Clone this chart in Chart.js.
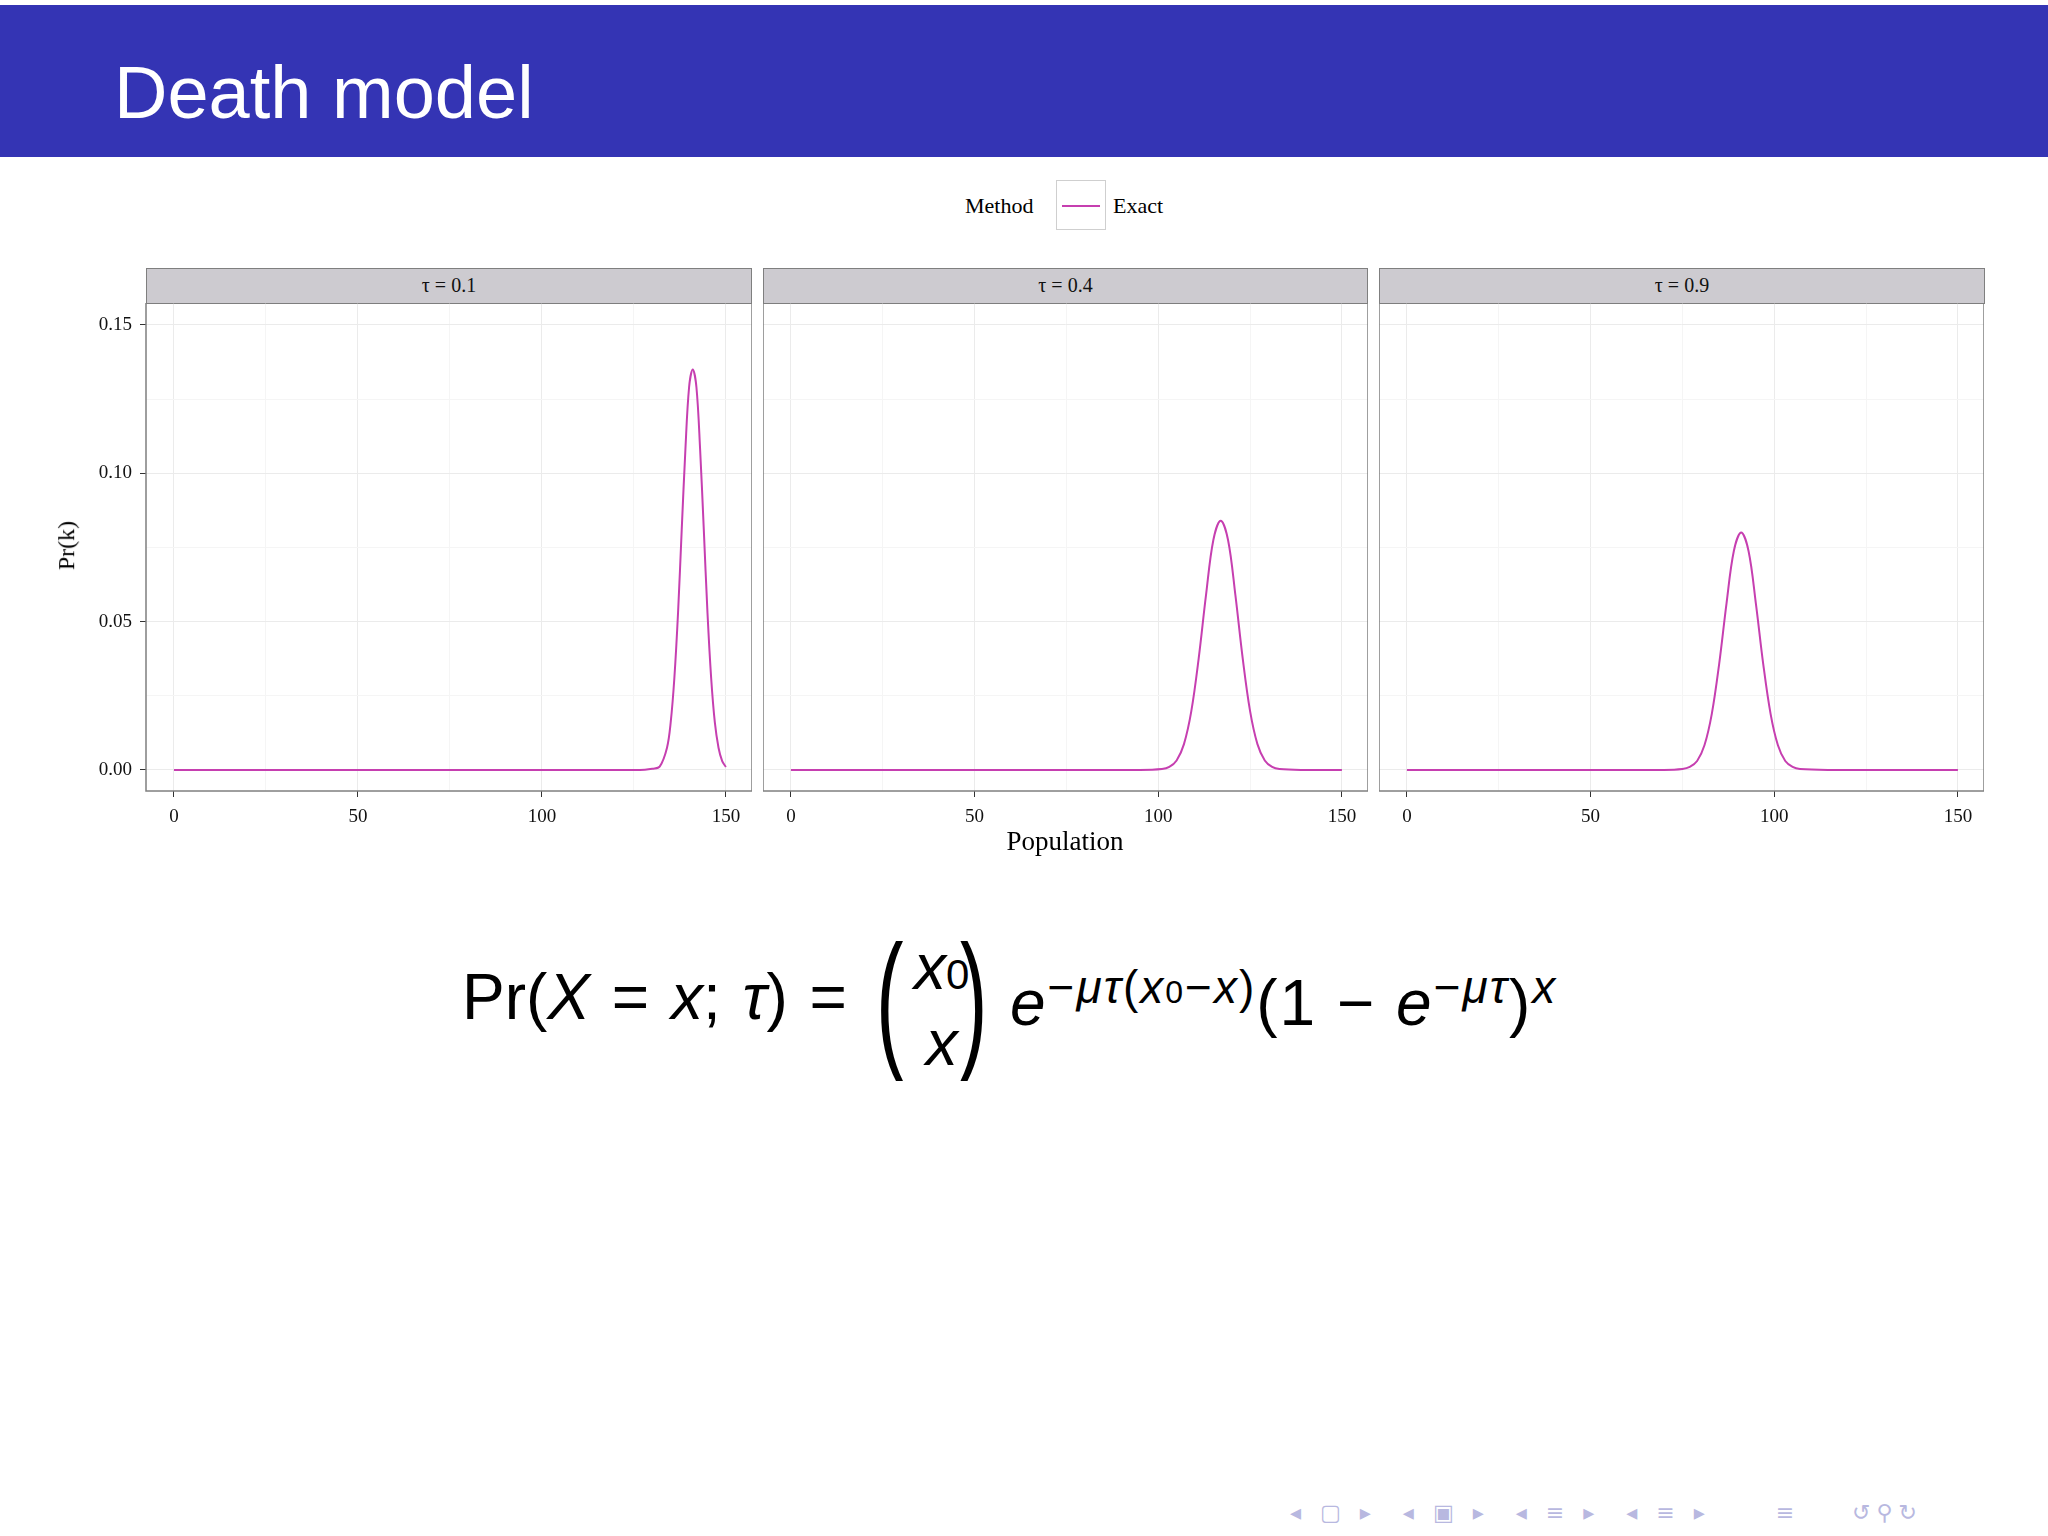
<!DOCTYPE html>
<html><head><meta charset="utf-8">
<script src="https://cdn.jsdelivr.net/npm/chart.js@4"></script>
<style>
body{margin:0;width:2048px;height:1536px;background:#fff;position:relative;overflow:hidden;font-family:"Liberation Serif","DejaVu Serif",serif}
.abs{position:absolute}
#hdr{left:0;top:5px;width:2048px;height:152px;background:#3434b4}
#title{left:114px;top:50px;color:#fff;font:74px "Liberation Sans","DejaVu Sans",sans-serif}
.strip{background:#cdcbd0;border:1.5px solid #7f7f7f;box-sizing:border-box;text-align:center;font-size:20px;line-height:33px;color:#111}
.eq{font-family:"Liberation Sans","DejaVu Sans",sans-serif;font-size:64px;color:#000}
</style></head><body>
<div id="hdr" class="abs"></div>
<div id="title" class="abs">Death model</div>
<div class="abs" style="left:965px;top:193px;font-size:22px">Method</div>
<div class="abs" style="left:1056px;top:180px;width:50px;height:50px;border:1.5px solid #cfcfcf;box-sizing:border-box"></div>
<div class="abs" style="left:1062px;top:205px;width:38px;height:2px;background:#c63fb0"></div>
<div class="abs" style="left:1113px;top:193px;font-size:22px">Exact</div>
<div class="abs strip" style="left:146px;top:268px;width:606px;height:36px">τ = 0.1</div>
<div class="abs strip" style="left:763px;top:268px;width:605px;height:36px">τ = 0.4</div>
<div class="abs strip" style="left:1379px;top:268px;width:606px;height:36px">τ = 0.9</div>
<canvas id="c0" class="abs" style="left:40px;top:303px"></canvas>
<canvas id="c1" class="abs" style="left:763px;top:303px"></canvas>
<canvas id="c2" class="abs" style="left:1379px;top:303px"></canvas>
<div class="abs" style="left:0;top:826px;width:2130px;text-align:center;font-size:27px">Population</div>
<div class="abs" style="left:42px;top:532px;font-size:24px;transform:rotate(-90deg);transform-origin:center">Pr(k)</div>
<div class="abs eq" style="left:462px;top:960px;white-space:nowrap;word-spacing:4px">Pr(<i>X</i> = <i>x</i>; <i>τ</i>) =</div>
<div class="abs eq" style="left:876px;top:912px;font-size:150px;transform:scaleX(0.55);transform-origin:left">(</div>
<div class="abs eq" style="left:914px;top:933px;text-align:center;line-height:68px"><i>x</i><span style="font-size:42px">0</span><br><i>x</i></div>
<div class="abs eq" style="left:960px;top:912px;font-size:150px;transform:scaleX(0.55);transform-origin:left">)</div>
<div class="abs eq" style="left:1010px;top:960px;white-space:nowrap;letter-spacing:2px"><i>e</i><sup style="font-size:46px">−<i>μτ</i>(<i>x</i><span style="font-size:32px">0</span>−<i>x</i>)</sup>(1 − <i>e</i><sup style="font-size:46px">−<i>μτ</i></sup>)<sup style="font-size:46px"><i>x</i></sup></div>
<div class="abs" style="left:1290px;top:1500px;color:#b8b8e0;font:22px 'DejaVu Sans';letter-spacing:6px;white-space:nowrap">◂ ▢ ▸ &nbsp;◂ ▣ ▸ &nbsp;◂ ≡ ▸ &nbsp;◂ ≡ ▸ &nbsp;&nbsp;&nbsp; ≡ &nbsp;&nbsp; ↺⚲↻</div>
<script>
const popT1 = [0,120,128,130,132,134,135,136,137,138,139,140,141,142,143,144,145,146,147,148,149,150];
const prT1  = [0,0,0.0001,0.0004,0.0011,0.0075,0.016,0.031,0.053,0.081,0.108,0.129,0.135,0.129,0.108,0.081,0.053,0.031,0.016,0.0075,0.003,0.001];
const popT4 = [0,95,101,103,105,107,109,111,113,115,117,119,121,123,125,127,129,131,133,140,150];
const prT4  = [0,0,0.0003,0.001,0.0032,0.0087,0.0198,0.0375,0.0589,0.0775,0.084,0.0775,0.0589,0.0375,0.0198,0.0087,0.0032,0.001,0.0003,0,0];
const popT9 = [0,70,75,77,79,81,83,85,87,89,91,93,95,97,99,101,103,105,107,115,150];
const prT9  = [0,0,0.0003,0.001,0.003,0.0083,0.0189,0.0357,0.0561,0.0738,0.080,0.0738,0.0561,0.0357,0.0189,0.0083,0.003,0.001,0.0003,0,0];
const xTickLabels = [0,50,100,150];
const yTickLabels = [0,0.05,0.10,0.15];
const panels = [[popT1,prT1],[popT4,prT4],[popT9,prT9]];
const border = {id:'bd',afterDraw(c){const a=c.chartArea,x=c.ctx;x.save();x.strokeStyle='#7f7f7f';x.lineWidth=1.5;x.strokeRect(a.left,a.top,a.right-a.left,a.bottom-a.top);x.restore();}};
const ylab = {id:'yl',afterDraw(c){ if(c.canvas.id!=='c0')return; const s=c.scales.y,x=c.ctx;x.save();x.fillStyle='#111';x.font='19px "Liberation Serif"';x.textAlign='right';x.textBaseline='middle';
  yTickLabels.forEach(v=>x.fillText(v.toFixed(2),c.chartArea.left-14,s.getPixelForValue(v)));x.restore();}};
const isMaj=(v,s)=>Math.abs(v/s-Math.round(v/s))<1e-6;
panels.forEach((p,i)=>{
  const cv=document.getElementById('c'+i);
  const yw = i===0?106:0;
  const w = (i===0?712:605), h=528;
  cv.width=w;cv.height=h;cv.style.width=w+'px';cv.style.height=h+'px';
  new Chart(cv,{type:'line',
    data:{datasets:[{data:p[0].map((x,j)=>({x:x,y:p[1][j]})),borderColor:'#c63fb0',borderWidth:2,pointRadius:0,tension:0.35,fill:false}]},
    plugins:[border,ylab],
    options:{responsive:false,animation:false,devicePixelRatio:1,layout:{padding:0},
      plugins:{legend:{display:false},tooltip:{enabled:false}},
      scales:{
        x:{type:'linear',min:-7.6,max:157.1,afterFit:s=>{s.height=40},
          afterBuildTicks:s=>{s.ticks=[0,25,50,75,100,125,150].map(v=>({value:v}))},
          ticks:{autoSkip:false,maxRotation:0,color:'#111',font:{family:'Liberation Serif',size:19},padding:9,
            callback:v=>xTickLabels.includes(v)?String(v):''},
          grid:{color:c=>isMaj(c.tick.value,50)?'#ebebeb':'#f5f5f5',tickColor:c=>isMaj(c.tick.value,50)?'#333':'rgba(0,0,0,0)',tickLength:6},border:{display:false}},
        y:{min:-0.0071,max:0.1574,display:true,afterFit:s=>{s.width=yw},
          afterBuildTicks:s=>{s.ticks=[0,0.025,0.05,0.075,0.1,0.125,0.15].map(v=>({value:v}))},
          ticks:{display:false},
          grid:{color:c=>isMaj(c.tick.value,0.05)?'#ebebeb':'#f5f5f5',drawTicks:i===0,tickColor:c=>isMaj(c.tick.value,0.05)?'#333':'rgba(0,0,0,0)',tickLength:6},border:{display:false}}
      }}});
});
</script>
</body></html>
